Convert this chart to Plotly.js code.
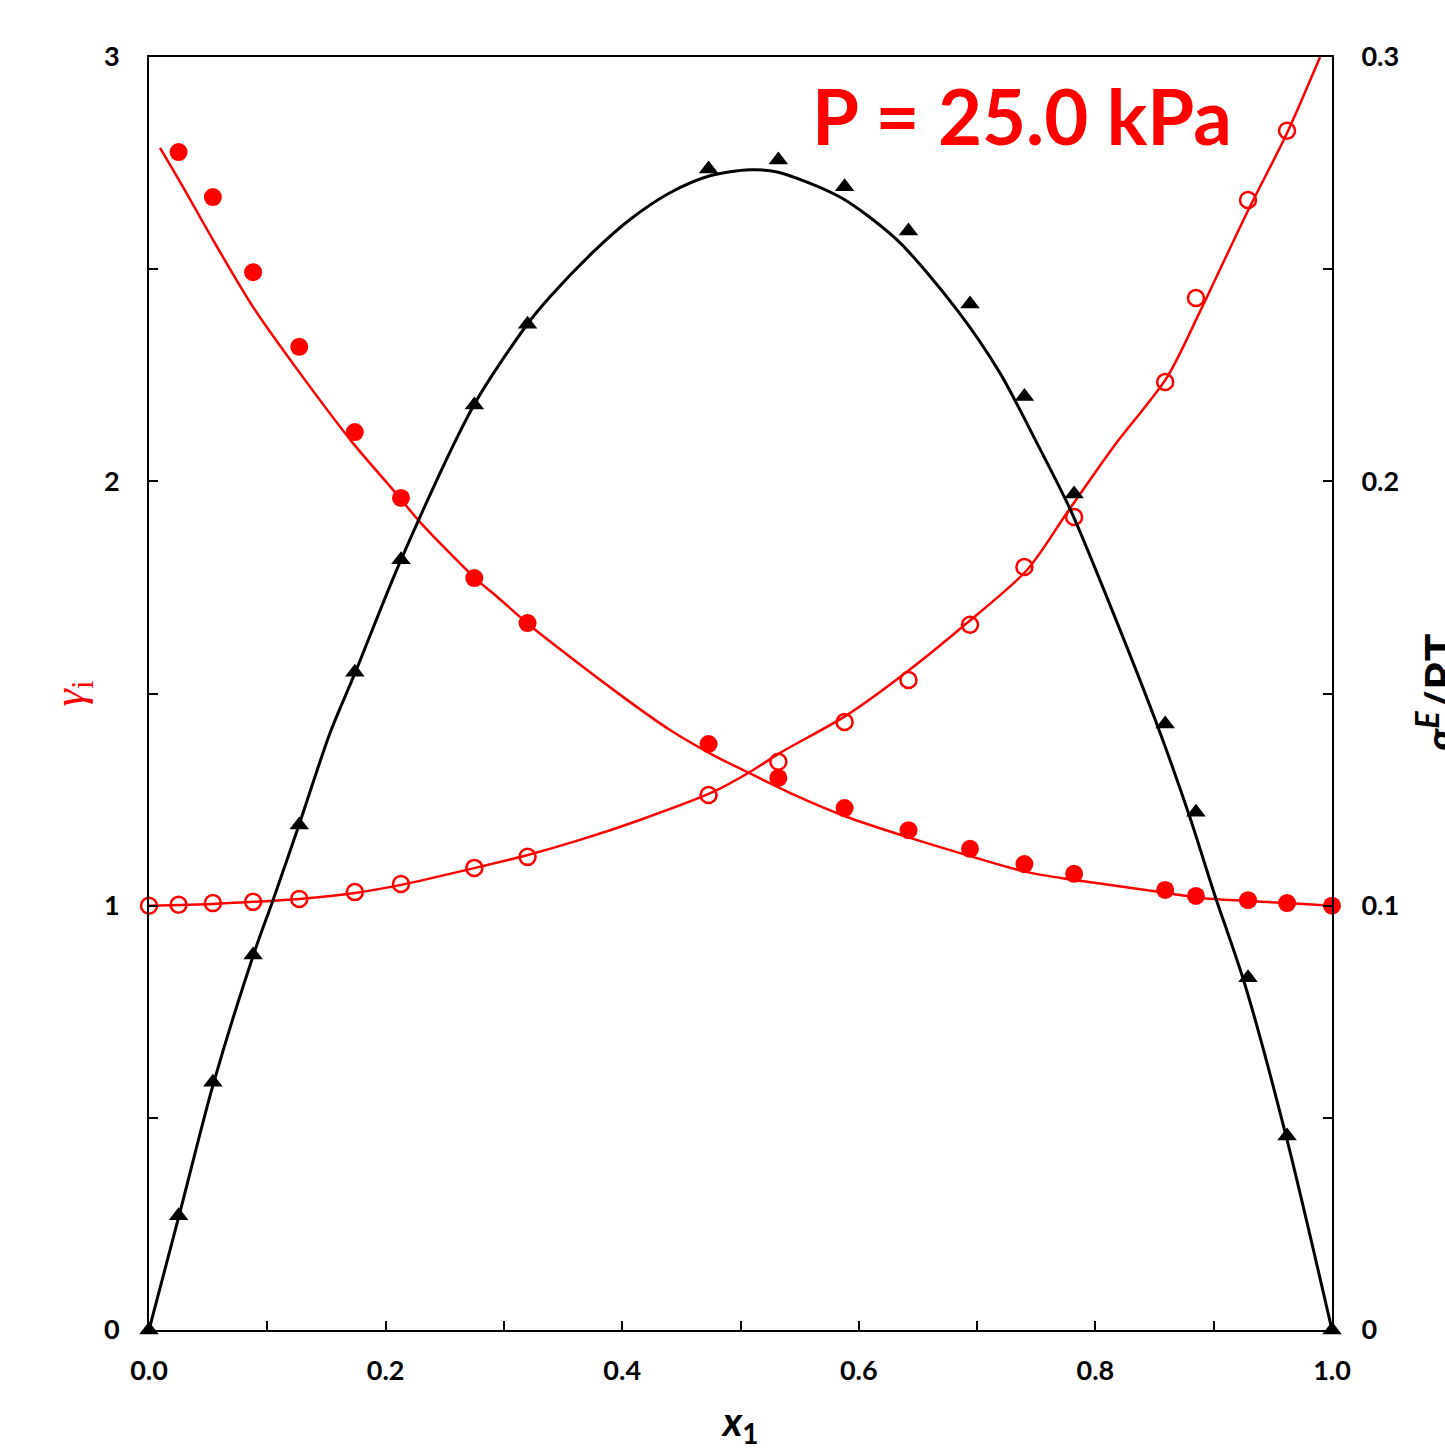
<!DOCTYPE html>
<html>
<head>
<meta charset="utf-8">
<script src="https://cdn.plot.ly/plotly-3.0.1.min.js"></script>
<style>
  html, body { margin: 0; padding: 0; background: #fff; }
  #chart { width: 1445px; height: 1450px; }
</style>
</head>
<body>
<div id="chart"></div>
<script>
// experimental points (x1 shared by all three series)
var xExp = [0, 0.025, 0.054, 0.088, 0.127, 0.174, 0.213, 0.275, 0.320, 0.473, 0.532,
  0.588, 0.642, 0.694, 0.740, 0.782, 0.859, 0.885, 0.929, 0.962, 1.0];
var gamma1Exp = [null, 2.776, 2.670, 2.493, 2.317, 2.116, 1.961, 1.772, 1.666, 1.381, 1.301,
  1.230, 1.178, 1.134, 1.098, 1.075, 1.037, 1.023, 1.013, 1.006, 1.000];
var gamma2Exp = [1.000, 1.002, 1.006, 1.009, 1.016, 1.032, 1.051, 1.089, 1.115, 1.261, 1.339,
  1.433, 1.532, 1.662, 1.798, 1.916, 2.234, 2.432, 2.663, 2.826, null];
var gERTExp = [0, 0.0269, 0.0584, 0.0884, 0.119, 0.155, 0.1815, 0.218, 0.237, 0.2736, 0.2757,
  0.2694, 0.259, 0.2418, 0.220, 0.197, 0.1428, 0.122, 0.083, 0.0457, 0];

// model curves
var xFit1 = [0.0093, 0.0287, 0.0541, 0.0879, 0.1276, 0.1724, 0.2063, 0.2291, 0.2756, 0.2942,
  0.3195, 0.3415, 0.4041, 0.4404, 0.4768, 0.5055, 0.5478, 0.5900, 0.6407, 0.6914, 0.7422,
  0.7811, 0.8605, 0.8884, 0.9290, 0.9620, 1.0];
var gamma1Fit = [2.786, 2.694, 2.569, 2.411, 2.255, 2.090, 1.980, 1.904, 1.772, 1.728,
  1.666, 1.617, 1.485, 1.414, 1.355, 1.315, 1.258, 1.209, 1.162, 1.119, 1.079,
  1.061, 1.030, 1.018, 1.011, 1.006, 1.000];

var xFit2 = [0, 0.0541, 0.0879, 0.1268, 0.1741, 0.2130, 0.2756, 0.3195, 0.3643, 0.4150,
  0.4768, 0.5080, 0.5334, 0.5900, 0.6407, 0.6914, 0.7422, 0.7760, 0.8149, 0.8605,
  0.8884, 0.9281, 0.9620, 0.9899];
var gamma2Fit = [1.000, 1.004, 1.009, 1.016, 1.030, 1.049, 1.089, 1.119, 1.155, 1.202,
  1.268, 1.315, 1.360, 1.449, 1.551, 1.666, 1.791, 1.926, 2.080, 2.245,
  2.400, 2.633, 2.821, 3.0];

var xFitG = [0, 0.0262, 0.0541, 0.0879, 0.1048, 0.1268, 0.1530, 0.1741, 0.2130, 0.2747,
  0.3195, 0.3390, 0.3753, 0.4066, 0.4404, 0.4742, 0.5080, 0.5309, 0.5841, 0.6323,
  0.6830, 0.7194, 0.7506, 0.7794, 0.8107, 0.8538, 0.8800, 0.9003, 0.9265, 0.9620, 1.0];
var gERTFit = [0, 0.0278, 0.0577, 0.0881, 0.1013, 0.1190, 0.1407, 0.1548, 0.1815, 0.2180,
  0.2369, 0.2435, 0.2540, 0.2617, 0.2680, 0.2720, 0.2734, 0.2729, 0.2670, 0.2569,
  0.2404, 0.2255, 0.2090, 0.1930, 0.1720, 0.1414, 0.1207, 0.1030, 0.0813, 0.0448, 0];

var RED = 'rgb(255,0,0)';

var traces = [
  {x: xFit1, y: gamma1Fit, mode: 'lines',
    line: {color: RED, width: 2.5, shape: 'spline', smoothing: 0.8}},
  {x: xFit2, y: gamma2Fit, mode: 'lines',
    line: {color: RED, width: 2.5, shape: 'spline', smoothing: 0.8}},
  {x: xFitG, y: gERTFit, yaxis: 'y2', mode: 'lines',
    line: {color: 'black', width: 3, shape: 'spline', smoothing: 0.8}},
  {x: xExp, y: gamma1Exp, mode: 'markers', cliponaxis: false,
    marker: {symbol: 'circle', size: 18, color: RED}},
  {x: xExp, y: gamma2Exp, mode: 'markers', cliponaxis: false,
    marker: {symbol: 'circle-open', size: 16, color: RED, line: {width: 2.5, color: RED}}},
  {x: xExp, y: gERTExp, yaxis: 'y2', mode: 'markers', cliponaxis: false,
    marker: {symbol: 'triangle-up', size: 17, color: 'black'}}
];

var tickFont = {family: 'Lato, Open Sans, sans-serif', size: 27, color: 'black', weight: 'bold'};

var layout = {
  width: 1445,
  height: 1450,
  margin: {l: 149, r: 113, t: 57, b: 120},
  paper_bgcolor: 'white',
  plot_bgcolor: 'white',
  showlegend: false,
  xaxis: {
    range: [0, 1],
    dtick: 0.2,
    tickformat: '.1f',
    ticks: 'inside', ticklen: 9, tickwidth: 2, tickcolor: 'black',
    minor: {dtick: 0.1, ticks: 'inside', ticklen: 9, tickwidth: 2, tickcolor: 'black'},
    showline: true, linewidth: 2, linecolor: 'black', mirror: true,
    showgrid: false, zeroline: false,
    tickfont: tickFont,
    ticklabelstandoff: 16,
    title: {
      text: '<b><span style="font-style:italic">x</span><sub>1</sub></b>',
      font: {family: 'Lato, Open Sans, sans-serif', size: 40, color: 'black'},
      standoff: 32
    }
  },
  yaxis: {
    range: [0, 3],
    dtick: 1,
    ticks: 'inside', ticklen: 9, tickwidth: 2, tickcolor: 'black',
    minor: {dtick: 0.5, ticks: 'inside', ticklen: 9, tickwidth: 2, tickcolor: 'black'},
    showline: true, linewidth: 2, linecolor: 'black',
    showgrid: false, zeroline: false,
    tickfont: tickFont,
    ticklabelstandoff: 22,
    title: {
      text: '<i>γ</i><sub>i</sub>',
      font: {family: 'Liberation Serif, DejaVu Serif, serif', size: 44, color: RED},
      standoff: 6
    }
  },
  yaxis2: {
    range: [0, 0.3],
    dtick: 0.1,
    overlaying: 'y',
    side: 'right',
    ticks: 'inside', ticklen: 9, tickwidth: 2, tickcolor: 'black',
    minor: {dtick: 0.05, ticks: 'inside', ticklen: 9, tickwidth: 2, tickcolor: 'black'},
    showline: true, linewidth: 2, linecolor: 'black',
    showgrid: false, zeroline: false,
    tickfont: tickFont,
    ticklabelstandoff: 22
  },
  annotations: [{
    text: '<b>P = 25.0 kPa</b>',
    xref: 'paper', yref: 'paper',
    x: 0.917, y: 0.954,
    xanchor: 'right', yanchor: 'middle',
    showarrow: false,
    font: {family: 'Lato, Open Sans, sans-serif', size: 76, color: RED}
  }, {
    // right axis title, partly running off the page edge as in the original
    text: '<b><i>g</i><sup><i>E</i></sup>/RT</b>',
    xref: 'paper', yref: 'paper',
    x: 1.089, y: 0.5,
    xanchor: 'center', yanchor: 'middle',
    textangle: -90,
    showarrow: false,
    font: {family: 'Lato, Open Sans, sans-serif', size: 46, color: 'black'}
  }]
};

Plotly.newPlot('chart', traces, layout, {displayModeBar: false, staticPlot: true});
</script>
</body>
</html>
